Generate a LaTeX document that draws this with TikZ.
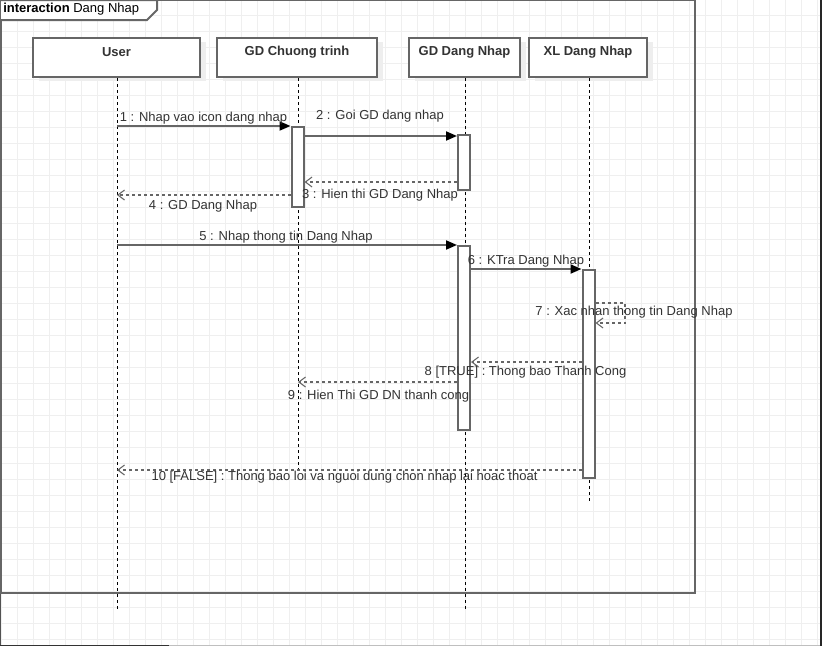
\documentclass[tikz,border=0pt]{standalone}
\usepackage{fontspec}
\setmainfont{Liberation Sans}
\usetikzlibrary{arrows.meta,calc}
\definecolor{edge}{HTML}{666666}
\definecolor{ink}{HTML}{333333}
\definecolor{gridc}{HTML}{EFEFEF}
\definecolor{shade}{HTML}{EEEEEE}
\begin{document}
\begin{tikzpicture}[x=0.75pt,y=-0.75pt,
  lifebox/.style={draw=edge,line width=1.5pt,fill=white,minimum width=#1*0.75pt,
    minimum height=39*0.75pt,inner sep=0pt,
    preaction={draw=none,fill=shade,transform canvas={xshift=6*0.75pt,yshift=-4*0.75pt}}},
  boxtext/.style={font=\bfseries\fontsize{9.75pt}{11pt}\selectfont,text=ink,inner sep=0pt},
  lifeline/.style={draw=black,line width=0.75pt,dash pattern=on 2.25pt off 2.25pt},
  actbox/.style={draw=edge,line width=1.5pt,fill=white,minimum width=12*0.75pt,inner sep=0pt},
  call/.style={draw=edge,line width=1.5pt,-{Triangle[length=8.25pt,width=6.75pt,color=black,fill=black]}},
  reply/.style={draw=edge,line width=1.1pt,dash pattern=on 2.25pt off 2.25pt,
    -{Straight Barb[length=5pt,width=7.5pt,line width=0.8pt]}},
  msg/.style={font=\fontsize{9.75pt}{11pt}\selectfont,text=ink,inner sep=0pt,yshift=-1.5*0.75pt},
  framebox/.style={draw=edge,line width=1.5pt}
]
\useasboundingbox (0,0) rectangle (822,646);
\fill[white] (0,0) rectangle (822,646);

% background grid, 16px pitch
\begin{scope}[shift={(1.3,-0.3)}]
  \draw[gridc,line width=0.75pt,step=12pt] (-1.3,0.3) grid (822,648);
\end{scope}

% window edges
\draw[edge!80!black,line width=1.2pt] (0.6,0) -- (0.6,646);
\draw[black!25,line width=1.2pt] (169,645.4) -- (822,645.4);
\draw[black!80,line width=1.2pt] (0,645.4) -- (169,645.4);
\draw[black!85,line width=1.5pt] (821.2,0) -- (821.2,646);

% interaction frame
\draw[framebox] (1,0) rectangle (695,593);
\draw[framebox,fill=white] (1,0) -- (157,0) -- (157,10) -- (147,20) -- (1,20);
\node[anchor=west,inner sep=0pt,text=black,font=\fontsize{9.75pt}{11pt}\selectfont] (title) at (3,9.5)
  {\textbf{interaction} Dang Nhap};

% lifeline heads
\node[lifebox=167] (user) at (116.5,57.5) {};
\node[lifebox=160] (gdct) at (297,57.5) {};
\node[lifebox=111] (gddn) at (464.5,57.5) {};
\node[lifebox=118] (xldn) at (588,57.5) {};
\node[boxtext] (userlbl) at ([yshift=-15.5*0.75pt]user.north) {User};
\node[boxtext] (gdctlbl) at ([yshift=-15.5*0.75pt]gdct.north) {GD Chuong trinh};
\node[boxtext] (gddnlbl) at ([yshift=-15.5*0.75pt]gddn.north) {GD Dang Nhap};
\node[boxtext] (xldnlbl) at ([yshift=-15.5*0.75pt]xldn.north) {XL Dang Nhap};

% lifeline ends
\coordinate (user-end) at (117,610);
\coordinate (gdct-end) at (298,472);
\coordinate (gddn-end) at (465,610);
\coordinate (xldn-end) at (589,501);
\draw[lifeline] (user-end |- user.south) -- (user-end);
\draw[lifeline] (gdct-end |- gdct.south) -- (gdct-end);
\draw[lifeline] (gddn-end |- gddn.south) -- (gddn-end);
\draw[lifeline] (xldn-end |- xldn.south) -- (xldn-end);

% activations
\node[actbox,minimum height=80*0.75pt] (act1) at (297.5,167) {};
\node[actbox,minimum height=55*0.75pt] (act2) at (464,162.5) {};
\node[actbox,minimum height=184*0.75pt] (act3) at (464,338) {};
\node[actbox,minimum height=208*0.75pt] (act4) at (588.5,374) {};

% message heights
\coordinate (y2) at (0,136);
\coordinate (y3) at (0,182);
\coordinate (y4) at (0,195);
\coordinate (y7a) at (0,303);
\coordinate (y7b) at (0,323);
\coordinate (y8) at (0,362);
\coordinate (y9) at (0,382);
\coordinate (y10) at (0,470);
\coordinate (loop7) at (625,303);

% messages
\draw[call] (user-end |- act1.north west) -- (act1.north west);
\draw[call] (act1.east |- y2) -- (act2.west |- y2);
\draw[reply] (act2.west |- y3) -- (act1.east |- y3);
\draw[reply] (act1.west |- y4) -- (user-end |- y4);
\draw[call] (user-end |- act3.north west) -- (act3.north west);
\draw[call] (act3.east |- act4.north) -- (act4.north west);
\draw[reply] (act4.east |- y7a) -- (loop7) -- (loop7 |- y7b) -- (act4.east |- y7b);
\draw[reply] (act4.west |- y8) -- (act3.east |- y8);
\draw[reply] (act3.west |- y9) -- (gdct-end |- y9);
\draw[reply] (act4.west |- y10) -- (user-end |- y10);

% message labels
\node[msg] (m1) at (203.5,117) {1 : Nhap vao icon dang nhap};
\node[msg] (m2) at (380,115) {2 : Goi GD dang nhap};
\node[msg] (m3) at (380,194) {3 : Hien thi GD Dang Nhap};
\node[msg] (m4) at (203,205) {4 : GD Dang Nhap};
\node[msg] (m5) at (286,236) {5 : Nhap thong tin Dang Nhap};
\node[msg] (m6) at (526,260) {6 : KTra Dang Nhap};
\node[msg] (m7) at (634,311) {7 : Xac nhan thong tin Dang Nhap};
\node[msg] (m8) at (525.5,371) {8 [TRUE] : Thong bao Thanh Cong};
\node[msg] (m9) at (378.5,395) {9 : Hien Thi GD DN thanh cong};
\node[msg] (m10) at (344.5,476) {10 [FALSE] : Thong bao loi va nguoi dung chon nhap lai hoac thoat};
\end{tikzpicture}
\end{document}
